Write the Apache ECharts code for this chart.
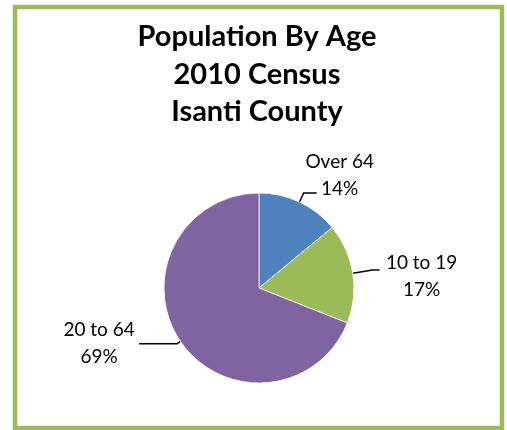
<!DOCTYPE html>
<html>
<head>
<meta charset="utf-8">
<script src="https://cdn.jsdelivr.net/npm/echarts@6/dist/echarts.min.js"></script>
<style>
html,body{margin:0;padding:0;background:#fff;}
#chart{width:507px;height:430px;}
</style>
</head>
<body>
<div id="chart"></div>
<script>
var titleLines = ['Population By Age', '2010 Census', 'Isanti County'];
var categories = ['Over 64', '10 to 19', '20 to 64'];
var values = [14, 17, 69];
var colors = ['#4F81BD', '#9BBB59', '#8064A2'];

// label styling: line lengths and text offsets from line end
var lineLen = [10, 20, 4];
var lineLen2 = [13, 7, 38];
var textOff = [[23, -17.5], [42, 6], [-40, 0]];

var chart = echarts.init(document.getElementById('chart'));
var data = categories.map(function (c, i) {
  return {
    name: c,
    value: values[i],
    itemStyle: { color: colors[i] },
    labelLine: { length: lineLen[i], length2: lineLen2[i] }
  };
});

chart.setOption({
  animation: false,
  title: {
    text: titleLines.join('\n'),
    left: 252,
    top: 13,
    textAlign: 'center',
    textStyle: {
      fontFamily: 'Lato',
      fontWeight: 'bold',
      fontSize: 29,
      lineHeight: 37.5,
      color: '#000'
    }
  },
  graphic: [{
    type: 'rect',
    shape: { x: 15, y: 7, width: 487, height: 421 },
    style: { fill: 'none', stroke: '#9BBB59', lineWidth: 4.5 },
    silent: true
  }],
  series: [{
    type: 'pie',
    center: [259, 288],
    radius: 95,
    startAngle: 90,
    clockwise: true,
    data: data,
    itemStyle: { borderColor: '#ffffff', borderWidth: 0.8 },
    label: {
      show: true,
      position: 'outside',
      fontFamily: 'Lato',
      fontSize: 19,
      lineHeight: 27,
      color: '#000',
      formatter: function (p) { return p.name + '\n' + Math.round(p.percent) + '%'; }
    },
    labelLine: {
      show: true,
      lineStyle: { color: '#000', width: 1.5 }
    },
    labelLayout: function (params) {
      var pts = params.labelLinePoints;
      var end = pts[pts.length - 1];
      var off = textOff[params.dataIndex];
      return {
        x: end[0] + off[0],
        y: end[1] + off[1],
        align: 'center',
        verticalAlign: 'middle',
        labelLinePoints: pts
      };
    }
  }]
});
</script>
</body>
</html>
